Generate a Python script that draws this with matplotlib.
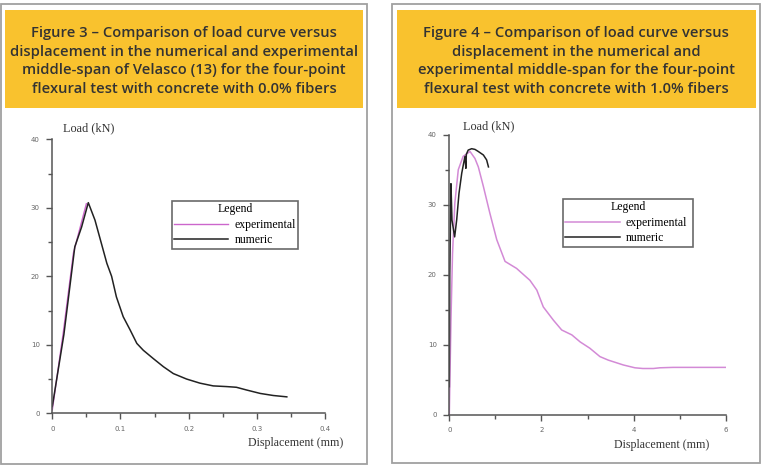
import numpy as np
import matplotlib.pyplot as plt
from matplotlib.patches import Rectangle
from matplotlib.ticker import MultipleLocator

# Figure 3 (0.0% fibers): displacement (mm) vs load (kN)
fig3_exp_x = [0.0, 0.016, 0.031, 0.050]
fig3_exp_y = [0.5, 11.7, 23.4, 30.6]
fig3_num_x = [0.0, 0.017, 0.033, 0.043, 0.0528, 0.0626, 0.072, 0.080, 0.087, 0.094,
              0.104, 0.114, 0.124, 0.1335, 0.148, 0.163, 0.1775, 0.197, 0.2166,
              0.236, 0.2557, 0.270, 0.285, 0.305, 0.324, 0.344]
fig3_num_y = [1.0, 11.5, 24.3, 27.2, 30.75, 28.2, 24.8, 21.9, 20.0, 17.0,
              14.1, 12.2, 10.2, 9.2, 8.0, 6.8, 5.8, 5.0, 4.4,
              4.0, 3.9, 3.8, 3.4, 2.9, 2.6, 2.4]
fig3_xticks = [0, 0.1, 0.2, 0.3, 0.4]
fig3_xlabels = ["0", "0.1", "0.2", "0.3", "0.4"]

# Figure 4 (1.0% fibers)
fig4_exp_x = [0.0, 0.036, 0.07, 0.12, 0.195, 0.30, 0.45, 0.557, 0.63, 0.74, 0.88,
              1.03, 1.21, 1.46, 1.75, 1.90, 2.04, 2.26, 2.44, 2.66, 2.84, 3.05,
              3.27, 3.45, 3.78, 4.03, 4.20, 4.43, 4.57, 4.86, 6.0]
fig4_exp_y = [0.0, 13.5, 23.0, 30.2, 35.0, 36.9, 37.6, 36.6, 35.4, 32.6, 28.8,
              25.0, 21.9, 20.9, 19.2, 17.8, 15.4, 13.5, 12.1, 11.4, 10.4, 9.5,
              8.3, 7.8, 7.1, 6.7, 6.6, 6.6, 6.7, 6.76, 6.76]
fig4_num_x = [0.0, 0.01, 0.036, 0.058, 0.116, 0.16, 0.21, 0.27, 0.34, 0.36, 0.37,
              0.41, 0.485, 0.557, 0.63, 0.74, 0.81, 0.85]
fig4_num_y = [4.0, 20.0, 33.0, 27.8, 25.4, 27.8, 31.6, 34.5, 36.9, 35.2, 37.2,
              37.8, 38.0, 37.9, 37.6, 37.1, 36.4, 35.4]
fig4_xticks = [0, 2, 4, 6]
fig4_xlabels = ["0", "2", "4", "6"]

yticks = [0, 10, 20, 30, 40]
ylabels = ["0", "10", "20", "30", "40"]

titles = [
    "Figure 3 – Comparison of load curve versus\ndisplacement in the numerical and experimental\n"
    "middle-span of Velasco (13) for the four-point\nflexural test with concrete with 0.0% fibers",
    "Figure 4 – Comparison of load curve versus\ndisplacement in the numerical and\n"
    "experimental middle-span for the four-point\nflexural test with concrete with 1.0% fibers",
]

W, H = 761, 473
fig = plt.figure(figsize=(W / 100, H / 100), dpi=100)

# background layer in pixel coordinates
bg = fig.add_axes([0, 0, 1, 1])
bg.set_xlim(0, W); bg.set_ylim(H, 0); bg.axis("off")
for (x0, x1, y1), (yx0, yx1), cx, t in zip(
        [(1, 367, 464), (392, 760, 463)],
        [(5, 363), (397, 756)],
        [184, 576], titles):
    bg.add_patch(Rectangle((x0, 4), x1 - x0, y1 - 4, fill=False, ec="#a0a0a0", lw=1.3))
    bg.add_patch(Rectangle((yx0, 10), yx1 - yx0, 98, fc="#F9C22E", ec="none"))
    bg.text(cx, 61, t, ha="center", va="center", fontsize=10.6, color="#333333",
            family="Open Sans", fontweight="semibold", linespacing=1.42)


def px_axes(x0, x1, ytop, ybot):
    return fig.add_axes([x0 / W, (H - ybot) / H, (x1 - x0) / W, (ybot - ytop) / H])


def style(ax, xmax, xticks, xlabels, xmin):
    for s in ["top", "right"]:
        ax.spines[s].set_visible(False)
    for s in ["left", "bottom"]:
        ax.spines[s].set_color("#555555")
        ax.spines[s].set_linewidth(1.1)
    ax.set_xlim(0, xmax); ax.set_ylim(0, 40)
    ax.set_xticks(xticks, xlabels)
    ax.set_yticks(yticks, ylabels)
    ax.xaxis.set_minor_locator(MultipleLocator(xmin))
    ax.yaxis.set_minor_locator(MultipleLocator(5))
    ax.tick_params(which="both", direction="out", color="#555555", width=1.0,
                   labelsize=5, labelcolor="#666666")
    ax.tick_params(which="major", length=4, pad=5)
    ax.tick_params(which="minor", length=3)
    ax.patch.set_alpha(0)


ax3 = px_axes(52.3, 325, 139.3, 413.3)
ax3.plot(fig3_exp_x, fig3_exp_y, color="#CC66CC", lw=1.0, label="experimental")
ax3.plot(fig3_num_x, fig3_num_y, color="#222222", lw=1.1, label="numeric")
style(ax3, 0.4, fig3_xticks, fig3_xlabels, 0.05)

ax4 = px_axes(449.3, 725.7, 134.7, 414.7)
ax4.plot(fig4_exp_x, fig4_exp_y, color="#D38AD6", lw=1.1, label="experimental")
ax4.plot(fig4_num_x, fig4_num_y, color="#222222", lw=1.1, label="numeric")
style(ax4, 6, fig4_xticks, fig4_xlabels, 1)

serif = "Liberation Serif"
for ax, lx, ly, dx, dy, box in [
        (ax3, 63, 128, 248, 443, (171.7, 201, 298, 249)),
        (ax4, 463, 126, 614, 445, (563, 199, 693, 249))]:
    bg.text(lx, ly, "Load (kN)", ha="left", va="center", fontsize=8.8, family=serif, color="#333333")
    bg.text(dx, dy, "Displacement (mm)", ha="left", va="center", fontsize=8.6, family=serif, color="#333333")
    lx0, ly0, lx1, ly1 = box
    leg = ax.legend(loc="upper left",
                    bbox_to_anchor=(lx0 / W, (H - ly1) / H, (lx1 - lx0) / W, (ly1 - ly0) / H),
                    bbox_transform=fig.transFigure, mode="expand",
                    title="Legend", fancybox=False, frameon=True, borderaxespad=0,
                    prop={"family": serif, "size": 8.5},
                    title_fontproperties={"family": serif, "size": 8.5},
                    handlelength=4.6, handletextpad=0.5, labelspacing=0.3, borderpad=0.2)
    leg.get_frame().set_edgecolor("#444444")
    leg.get_frame().set_linewidth(1.2)

fig.savefig("out.png", dpi=100)
